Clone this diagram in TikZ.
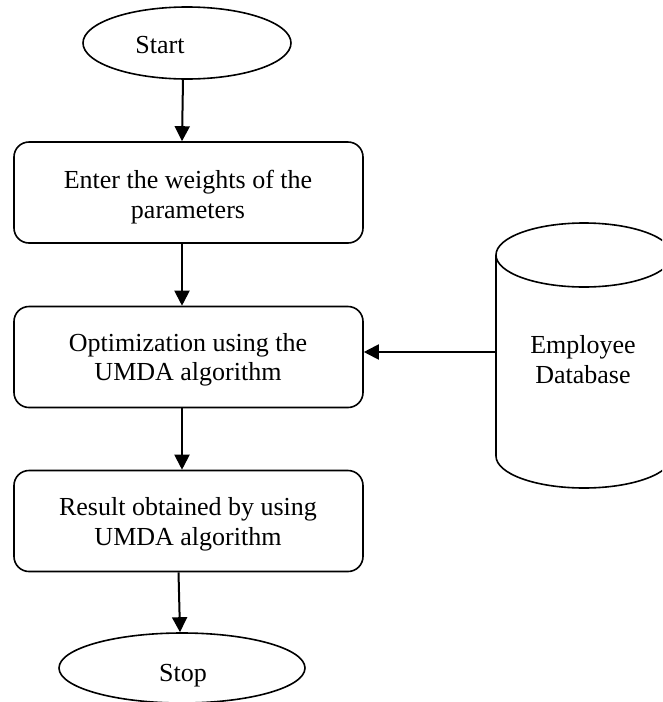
\documentclass[tikz,border=0pt]{standalone}
\usepackage{fontspec}
\setmainfont{Liberation Serif}
\usetikzlibrary{shapes.geometric,arrows.meta}
\begin{document}
\begin{tikzpicture}[x=1pt,y=-1pt,
  box/.style={draw, line width=1.6pt, rounded corners=15pt, minimum width=349pt, minimum height=101pt, inner sep=0pt},
  oval/.style={draw, ellipse, line width=1.6pt, inner sep=0pt},
  txt/.style={font=\fontsize{26}{29.5}\selectfont, align=center, inner sep=0pt},
  arr/.style={line width=2pt, -{Triangle[length=15pt,width=15pt]}},
  cyl/.style={line width=1.6pt}]
\useasboundingbox (0,0) rectangle (662,702);
\clip (0,0) rectangle (662,702);
% start / stop
\node[oval, minimum width=208pt, minimum height=72pt] (start) at (187,43) {};
\node[txt] (starttxt) at (160,45) {Start};
\node[oval, minimum width=246pt, minimum height=70pt] (stop) at (182,668) {};
\node[txt, anchor=base] (stoptxt) at (183,681) {Stop};
% boxes
\node[box] (box1) at (188.5,192.5) {};
\node[txt] (t1) at (188,197) {Enter the weights of the\\parameters};
\node[box] (box2) at (188.5,357) {};
\node[txt] (t2) at (188,360) {Optimization using the\\UMDA algorithm};
\node[box] (box3) at (188.5,521) {};
\node[txt] (t3) at (188,524.5) {Result obtained by using\\UMDA algorithm};
% database cylinder
\draw[cyl] (584,255) ellipse [x radius=88pt, y radius=32pt];
\draw[cyl] (496,255) -- (496,456) arc[start angle=180, end angle=360, x radius=88pt, y radius=32pt] -- (672,255);
\node[txt] (db) at (583,359.5) {Employee\\Database};
\coordinate (dbin) at (496,352);
% connectors
\draw[arr] ([xshift=-4pt]start.south) -- ([xshift=-6.5pt]box1.north);
\draw[arr] ([xshift=-6.5pt]box1.south) -- ([xshift=-6.5pt]box2.north);
\draw[arr] ([xshift=-6.5pt]box2.south) -- ([xshift=-6.5pt]box3.north);
\draw[arr] ([xshift=-10pt]box3.south) -- ([xshift=-2pt]stop.north);
\draw[arr] (dbin) -- (dbin -| box2.east);
\end{tikzpicture}
\end{document}
